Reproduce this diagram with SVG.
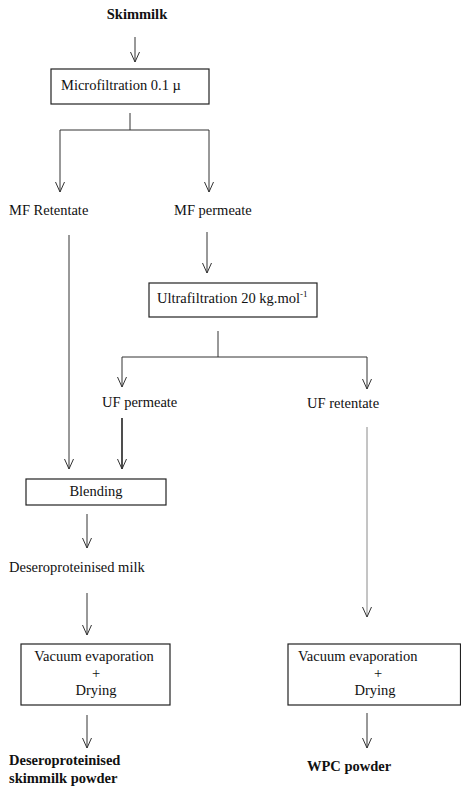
<svg xmlns="http://www.w3.org/2000/svg" width="461" height="787" viewBox="0 0 461 787">
<style>
text{font-family:"Liberation Serif","Times New Roman",serif;font-size:14.5px;fill:#111}
.b{font-weight:bold}
.m{text-anchor:middle}
.box{fill:#fff;stroke:#222;stroke-width:1.2}
.ln{fill:none;stroke:#333;stroke-width:1}
.g{stroke:#8a8a8a}
.k{stroke:#222;stroke-width:1.6}
</style>
<defs>
<marker id="v" viewBox="-11 -6 12 12" refX="0" refY="0" markerWidth="12" markerHeight="12" markerUnits="userSpaceOnUse" orient="auto">
<path d="M-10,-4.5 L0,0 L-10,4.5" fill="none" stroke="#333" stroke-width="1"/>
</marker>
</defs>
<rect width="461" height="787" fill="#fff"/>
<g id="connectors">
<path class="ln" d="M135,37 V62" marker-end="url(#v)"/>
<path class="ln" d="M130,113 V130"/>
<path class="ln" d="M60,130 H209"/>
<path class="ln" d="M60,130 V192" marker-end="url(#v)"/>
<path class="ln" d="M209,130 V192" marker-end="url(#v)"/>
<path class="ln" d="M69,235 V469" marker-end="url(#v)"/>
<path class="ln" d="M207,232 V273" marker-end="url(#v)"/>
<path class="ln" d="M218,331 V357"/>
<path class="ln" d="M122,357 H367"/>
<path class="ln" d="M122,357 V387" marker-end="url(#v)"/>
<path class="ln" d="M367,357 V389" marker-end="url(#v)"/>
<path class="ln k" d="M122,418 V469" marker-end="url(#v)"/>
<path class="ln g" d="M367,427 V617" marker-end="url(#v)"/>
<path class="ln" d="M87,514 V548" marker-end="url(#v)"/>
<path class="ln" d="M87,593 V635" marker-end="url(#v)"/>
<path class="ln" d="M87,715 V748" marker-end="url(#v)"/>
<path class="ln" d="M367,713 V748" marker-end="url(#v)"/>
</g>
<g id="skimmilk"><text class="b m" x="137" y="19">Skimmilk</text></g>
<g id="microfiltration">
<rect class="box" x="51" y="69" width="158" height="35"/>
<text x="61" y="90">Microfiltration 0.1 µ</text>
</g>
<g id="mf-retentate"><text x="9" y="215">MF Retentate</text></g>
<g id="mf-permeate"><text x="174" y="215">MF permeate</text></g>
<g id="ultrafiltration">
<rect class="box" x="149" y="283" width="168" height="34"/>
<text x="157" y="303">Ultrafiltration 20 kg.mol<tspan font-size="9" dy="-6">-1</tspan></text>
</g>
<g id="uf-permeate"><text x="102" y="407">UF permeate</text></g>
<g id="uf-retentate"><text x="307" y="408">UF retentate</text></g>
<g id="blending">
<rect class="box" x="26" y="479" width="140" height="26"/>
<text class="m" x="96" y="496">Blending</text>
</g>
<g id="deproteinised-milk"><text x="9" y="572">Deseroproteinised milk</text></g>
<g id="evap-left">
<rect class="box" x="21" y="644" width="149" height="61"/>
<text class="m" x="94" y="661">Vacuum evaporation</text>
<text class="m" x="96" y="678">+</text>
<text class="m" x="96" y="695">Drying</text>
</g>
<g id="evap-right">
<rect class="box" x="288" y="644" width="172.5" height="61"/>
<text x="298" y="661">Vacuum evaporation</text>
<text class="m" x="378" y="678">+</text>
<text class="m" x="375" y="695">Drying</text>
</g>
<g id="skimmilk-powder">
<text class="b" x="9" y="765">Deseroproteinised</text>
<text class="b" x="9" y="783">skimmilk powder</text>
</g>
<g id="wpc-powder"><text class="b" x="307" y="771">WPC powder</text></g>
</svg>
